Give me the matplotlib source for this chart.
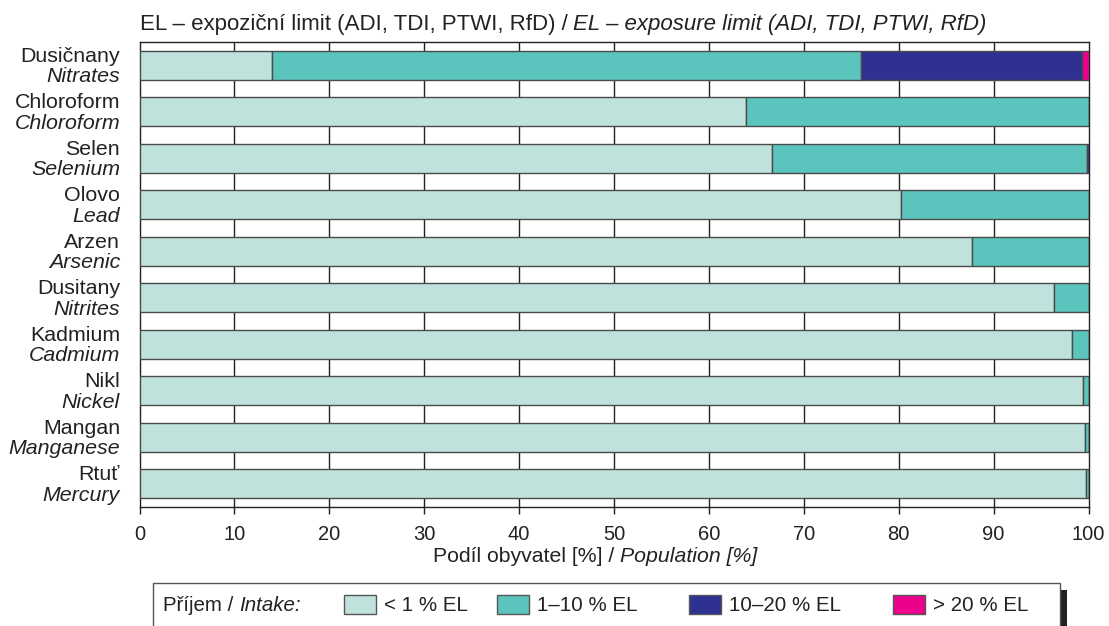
import matplotlib
matplotlib.use("Agg")
import matplotlib.pyplot as plt
import matplotlib.transforms as mtransforms
from matplotlib.patches import Rectangle
import numpy as np

plt.rcParams['font.family'] = ['Liberation Sans', 'DejaVu Sans']
plt.rcParams['font.size'] = 14

# data (share of population in %)
names_cz = ['Dusičnany', 'Chloroform', 'Selen', 'Olovo', 'Arzen',
            'Dusitany', 'Kadmium', 'Nikl', 'Mangan', 'Rtuť']
names_en = ['Nitrates', 'Chloroform', 'Selenium', 'Lead', 'Arsenic',
            'Nitrites', 'Cadmium', 'Nickel', 'Manganese', 'Mercury']
below_1 = [14.0, 63.9, 66.6, 80.2, 87.7, 96.4, 98.3, 99.4, 99.6, 99.7]
from_1_to_10 = [62.0, 36.1, 33.2, 19.8, 12.3, 3.6, 1.7, 0.6, 0.4, 0.3]
from_10_to_20 = [23.3, 0.0, 0.2, 0.0, 0.0, 0.0, 0.0, 0.0, 0.0, 0.0]
above_20 = [0.7, 0.0, 0.0, 0.0, 0.0, 0.0, 0.0, 0.0, 0.0, 0.0]

series = [below_1, from_1_to_10, from_10_to_20, above_20]
labels = ['< 1 % EL', '1–10 % EL', '10–20 % EL', '> 20 % EL']
colors = ['#bfe3dc', '#5bc5bd', '#2e3192', '#ec008c']
xticks = list(range(0, 101, 10))

W, H = 1109, 626
fig = plt.figure(figsize=(W / 100, H / 100), dpi=100)
ax = fig.add_axes([139.5 / W, 1 - 507 / H, 949 / W, 465 / H])

def fx(x):
    return x / W

def fy(y):
    return 1 - y / H

y = np.arange(len(names_cz))
left = np.zeros(len(y))
for vals, col in zip(series, colors):
    vals = np.array(vals)
    ax.barh(y, vals, left=left, height=0.63, color=col,
            edgecolor='#4a4a4a', linewidth=1.0, zorder=3)
    left += vals

ax.set_xlim(0, 100)
ax.set_ylim(len(y) - 0.5, -0.5)
ax.set_xticks(xticks)
ax.set_yticks([])
ax.tick_params(axis='x', direction='out', length=5, width=1, pad=8,
               labelsize=14.5, colors='#222222')
for v in xticks[1:-1]:
    ax.axvline(v, color='#222222', linewidth=1, zorder=1)
for s in ax.spines.values():
    s.set_color('#222222')
    s.set_linewidth(1)

# category labels, Czech above, English italic below
tr = mtransforms.blended_transform_factory(fig.transFigure, ax.transData)
for i, (cz, en) in enumerate(zip(names_cz, names_en)):
    ax.text(fx(120), i - 0.07, cz, transform=tr, ha='right', va='baseline',
            fontsize=15.4, color='#222222')
    ax.text(fx(120), i + 0.37, en, transform=tr, ha='right', va='baseline',
            fontsize=15.4, style='italic', color='#222222')

def two_part(x, y, a, b, size=14):
    t1 = fig.text(fx(x), fy(y), a, ha='left', va='baseline',
                  fontsize=size, color='#222222')
    fig.canvas.draw()
    ext = t1.get_window_extent()
    fig.text(ext.x1 / W, fy(y), b, ha='left', va='baseline',
             fontsize=size, style='italic', color='#222222')

two_part(139.5, 30, 'EL – expoziční limit (ADI, TDI, PTWI, RfD) / ',
         'EL – exposure limit (ADI, TDI, PTWI, RfD)', size=16)
two_part(433, 562, 'Podíl obyvatel [%] / ', 'Population [%]', size=15.3)

# legend box with shadow
fig.add_artist(Rectangle((fx(1060), fy(660)), 7 / W, 70 / H, transform=fig.transFigure,
                         facecolor='#222222', edgecolor='none', zorder=1))
fig.add_artist(Rectangle((fx(152.5), fy(660)), 907.5 / W, 77 / H, transform=fig.transFigure,
                         facecolor='white', edgecolor='#555555', linewidth=1, zorder=2))
two_part(163, 611, 'Příjem / ', 'Intake:', size=14.8)
patch_x = [344, 497, 689, 893]
for px, lab, col in zip(patch_x, labels, colors):
    fig.add_artist(Rectangle((fx(px), fy(614)), 32 / W, 19 / H, transform=fig.transFigure,
                             facecolor=col, edgecolor='#555555', linewidth=1, zorder=3))
    fig.text(fx(px + 40), fy(611), lab, ha='left', va='baseline',
             fontsize=14.8, color='#222222', zorder=3)

fig.savefig('out.png', dpi=100)
